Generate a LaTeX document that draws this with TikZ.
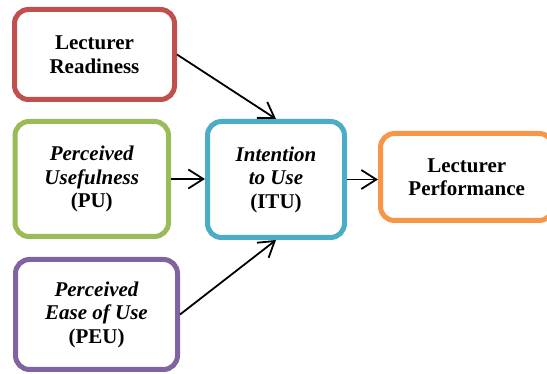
\documentclass[tikz,border=0pt]{standalone}
\usepackage{fontspec}
\newfontfamily\tnr{LiberationSerif}[Extension=.ttf, UprightFont=*-Regular, BoldFont=*-Bold, ItalicFont=*-Italic, BoldItalicFont=*-BoldItalic]
\usetikzlibrary{arrows.meta}
\definecolor{cred}{HTML}{C0504D}
\definecolor{cgreen}{HTML}{9BBB59}
\definecolor{cpurple}{HTML}{8064A2}
\definecolor{cblue}{HTML}{4BACC6}
\definecolor{corange}{HTML}{F79646}
\tikzset{
  box/.style={draw=#1, line width=5pt, rounded corners=14pt, fill=white,
    align=center, inner sep=0pt,
    font=\tnr\fontsize{21pt}{23.5pt}\selectfont\bfseries},
  conn/.style={line width=1.8pt, -{Straight Barb[length=15pt,width=19pt,line width=1.8pt]}}
}
\begin{document}
\begin{tikzpicture}[x=1pt,y=-1pt]
\useasboundingbox (0,0) rectangle (547,374);
\node[box=cred, minimum width=160pt, minimum height=90pt] (lr) at (94.5,54.5) {Lecturer\\Readiness};
\node[box=cgreen, minimum width=153.5pt, minimum height=115pt] (pu) at (91.75,179) {\itshape Perceived\\\itshape Usefulness\\(PU)};
\node[box=cpurple, minimum width=162pt, minimum height=110pt] (peu) at (96.5,314.5) {\itshape Perceived\\\itshape Ease of Use\\(PEU)};
\node[box=cblue, minimum width=137pt, minimum height=116pt] (itu) at (276,179.5) {\itshape Intention\\\itshape to Use\\(ITU)};
\node[box=corange, minimum width=172.5pt, minimum height=87pt] (lp) at (466.75,177) {Lecturer\\Performance};
\draw[conn] (lr.east) -- (itu.north);
\draw[conn] (pu.east) -- (pu.east -| itu.west);
\draw[conn] (peu.east) -- (itu.south);
\draw[conn] (itu.east) -- (itu.east -| lp.west);
\end{tikzpicture}
\end{document}
